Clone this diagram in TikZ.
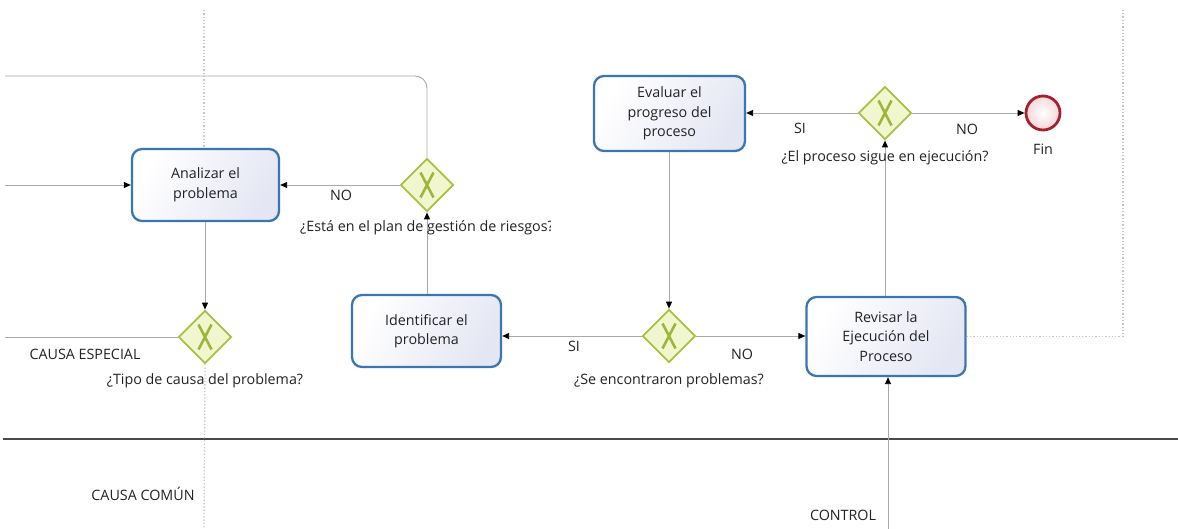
\documentclass[tikz,border=0pt]{standalone}
\usepackage{fontspec}
\setmainfont{Open Sans}
\usetikzlibrary{arrows.meta,shapes.geometric}
\definecolor{taskblue}{HTML}{3A76B0}
\definecolor{taskfill}{HTML}{E4E6F3}
\definecolor{gwgreen}{HTML}{A9C040}
\definecolor{gwfill}{HTML}{F2F6CF}
\definecolor{xgreen}{HTML}{9CB63A}
\definecolor{endred}{HTML}{A3232D}
\definecolor{endfill}{HTML}{F6D6DA}
\definecolor{flowgray}{HTML}{AAAAAA}
\definecolor{txt}{HTML}{222226}
\definecolor{lanegray}{HTML}{4A4A4A}
\begin{document}
\begin{tikzpicture}[x=1pt,y=-1pt,
  font=\fontsize{14.3}{19.5}\selectfont, text=txt,
  task/.style={draw=taskblue, line width=2.3pt, rounded corners=10pt,
    left color=white, right color=taskfill, shading angle=60,
    align=center, inner sep=0pt},
  gw/.style={diamond, draw=gwgreen, line width=1.8pt, fill=gwfill,
    minimum width=53pt, minimum height=53pt, inner sep=0pt,
    path picture={\draw[xgreen, line width=2.6pt]
      ([shift={(-6.5,-12.5)}]path picture bounding box.center) --
      ([shift={(6.5,12.5)}]path picture bounding box.center)
      ([shift={(6.5,-12.5)}]path picture bounding box.center) --
      ([shift={(-6.5,12.5)}]path picture bounding box.center);}},
  endev/.style={circle, draw=endred, line width=2.8pt, inner color=white,
    outer color=endfill, minimum size=34pt, inner sep=0pt},
  flow/.style={draw=flowgray, line width=0.9pt},
  arr/.style={flow, -{Triangle[length=7pt,width=6pt,black]}},
  dotline/.style={draw=gray!45, line width=1.3pt, dotted},
  lane/.style={draw=lanegray, line width=2.4pt},
  lbl/.style={inner sep=0pt}
]
\useasboundingbox (0,0) rectangle (1178,529);

% lane separator
\coordinate (laneL) at (3,439);
\coordinate (laneR) at (1178,439);
\draw[lane] (laneL) -- (laneR);

% activities
\node[task, minimum width=147pt, minimum height=72pt] (analizar) at (205.5,185) {Analizar el\\problema};
\node[task, minimum width=149pt, minimum height=72pt] (identificar) at (426.5,331) {Identificar el\\problema};
\node[task, minimum width=151pt, minimum height=75pt] (evaluar) at (669.5,113.5) {Evaluar el\\progreso del\\proceso};
\node[task, minimum width=159pt, minimum height=79pt] (revisar) at (886,336.5) {Revisar la\\Ejecución del\\Proceso};

% gateways and end event
\node[gw] (plan) at (427,185) {};
\node[gw] (tipo) at (205,337) {};
\node[gw] (encontr) at (669,336) {};
\node[gw] (sigue) at (885,113) {};
\node[endev] (fin) at (1043,113) {};

% free ends of flows
\coordinate (inTop) at (5,76);
\coordinate (corner) at (427,76);
\coordinate (inMid) at (5,185);
\coordinate (outEsp) at (5,337);
\coordinate (dotTop) at (204,10);
\coordinate (dotBot) at (204,529);
\coordinate (rTop) at (1123,10);
\coordinate (ctrlIn) at (888,529);

% sequence flows
\draw[flow, rounded corners=12pt] (plan.north) -- (corner) -- (inTop);
\draw[arr] (inMid) -- (analizar.west);
\draw[arr] (plan.west) -- (analizar.east);
\draw[arr] (identificar.north -| plan) -- (plan.south);
\draw[arr] (analizar.south -| tipo) -- (tipo.north);
\draw[flow] (tipo.west) -- (outEsp);
\draw[arr] (encontr.west) -- (encontr.west -| identificar.east);
\draw[arr] (encontr.east) -- (encontr.east -| revisar.west);
\draw[arr] (evaluar.south -| encontr) -- (encontr.north);
\draw[arr] (revisar.north -| sigue) -- (sigue.south);
\draw[arr] (sigue.west) -- (sigue.west -| evaluar.east);
\draw[arr] (sigue.east) -- (fin.west);
\draw[arr] (ctrlIn) -- (revisar.south -| ctrlIn);

% dotted connections
\draw[dotline] (dotTop) -- (analizar.north -| dotTop);
\draw[dotline] (tipo.south) -- (dotBot);
\draw[dotline] (revisar.east) -| (rTop);

% gateway captions, cut at the width of their label boxes
\begin{scope}
  \clip (290,212) rectangle (550,244);
  \node[lbl] (lPlan) at (427,228) {¿Está en el plan de gestión de riesgos?};
\end{scope}
\begin{scope}
  \clip (95,365) rectangle (302,397);
  \node[lbl] (lTipo) at (205,381) {¿Tipo de causa del problema?};
\end{scope}

% labels
\node[lbl] (lNo1) at (341,195) {NO};
\node[lbl] (lEsp) at (85,354) {CAUSA ESPECIAL};
\node[lbl] (lSi1) at (574,346) {SI};
\node[lbl] (lNo2) at (742,354) {NO};
\node[lbl] (lEnc) at (669,381) {¿Se encontraron problemas?};
\node[lbl] (lSi2) at (800,128) {SI};
\node[lbl] (lNo3) at (967,129) {NO};
\node[lbl] (lFin) at (1043,149) {Fin};
\node[lbl] (lSigue) at (885,158) {¿El proceso sigue en ejecución?};
\node[lbl] (lComun) at (143,494) {CAUSA COMÚN};
\node[lbl] (lCtrl) at (843,515) {CONTROL};
\end{tikzpicture}
\end{document}
